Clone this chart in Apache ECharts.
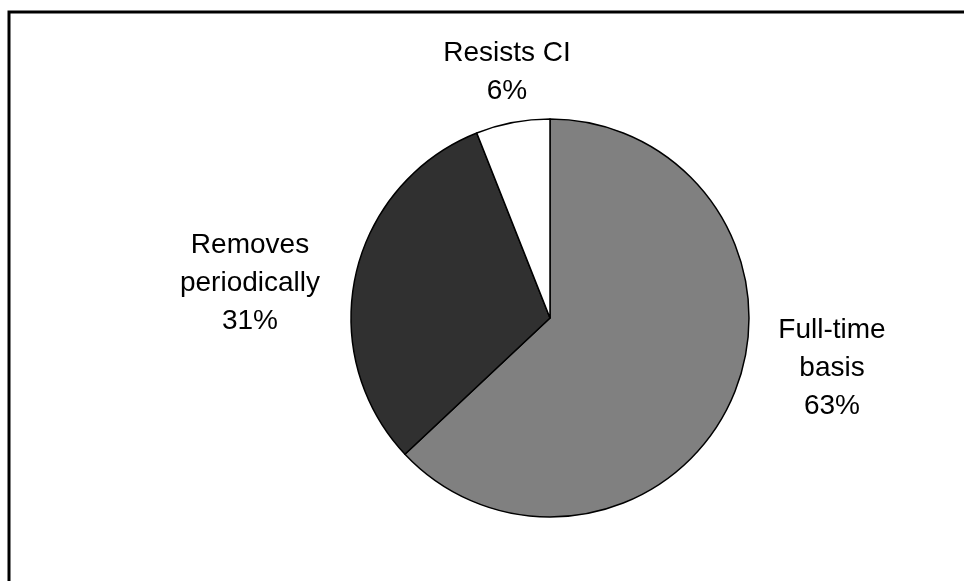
<!DOCTYPE html>
<html>
<head>
<meta charset="utf-8">
<script src="https://cdn.jsdelivr.net/npm/echarts@6/dist/echarts.min.js"></script>
<style>
  html, body { margin: 0; padding: 0; background: #ffffff; }
  #chart { width: 964px; height: 581px; }
</style>
</head>
<body>
<div id="chart"></div>
<script>
// Share of users by how they wear the device
const categories = ['Full-time\nbasis', 'Removes\nperiodically', 'Resists CI'];
const shares = [63, 31, 6];
const sliceColors = ['#808080', '#303030', '#ffffff'];

// Label anchor points (centre of each text block), in pixels
const labelAnchors = [[832, 368], [250, 283], [507, 72]];

const chart = echarts.init(document.getElementById('chart'), null, { renderer: 'canvas' });

chart.setOption({
  backgroundColor: '#ffffff',
  animation: false,
  graphic: [{
    type: 'rect',
    shape: { x: 9, y: 12, width: 1100, height: 1000 },
    style: { fill: 'none', stroke: '#000000', lineWidth: 3 },
    silent: true
  }],
  series: [{
    type: 'pie',
    center: [550, 318],
    radius: 199,
    startAngle: 90,
    clockwise: true,
    avoidLabelOverlap: false,
    data: categories.map((name, i) => ({
      name: name,
      value: shares[i],
      itemStyle: { color: sliceColors[i] }
    })),
    itemStyle: { borderColor: '#000000', borderWidth: 1.5 },
    label: {
      show: true,
      position: 'outside',
      formatter: '{b}\n{d}%',
      fontFamily: '"Liberation Sans", Arial, sans-serif',
      fontSize: 28,
      lineHeight: 38,
      color: '#000000',
      align: 'center'
    },
    labelLine: { show: false },
    labelLayout: function (params) {
      const p = labelAnchors[params.dataIndex];
      return { x: p[0], y: p[1], align: 'center', verticalAlign: 'middle' };
    },
    emphasis: { disabled: true }
  }]
});
</script>
</body>
</html>
